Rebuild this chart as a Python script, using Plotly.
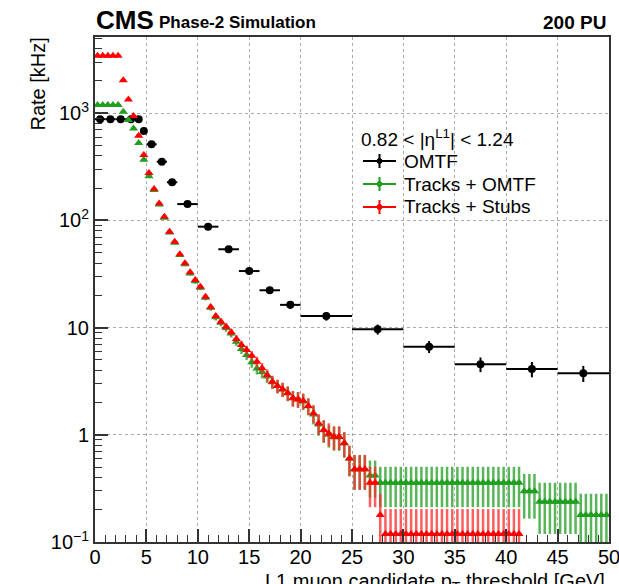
import plotly.graph_objects as go

# ---------------- data ----------------
# OMTF: variable-width threshold bins
omtf_edges = [0, 1, 2, 3, 4, 4.5, 5, 6, 7, 8, 10, 12, 14, 16, 18, 20, 25, 30, 35, 40, 45, 50]
omtf_rate = [880, 880, 880, 880, 880, 682, 513, 353, 227, 142, 87.4, 53.8, 33.7, 22.3,
             16.3, 12.8, 9.64, 6.64, 4.55, 4.11, 3.75]
omtf_err = [9.8, 9.8, 9.8, 9.8, 9.8, 8.7, 7.5, 6.2, 5.0, 4.0, 3.1, 2.4, 1.9, 1.57,
            1.34, 1.19, 1.03, 0.85, 0.71, 0.67, 0.64]

# Track-based: 0.5 GeV threshold bins from 0 to 50 GeV
thr_edges = [i * 0.5 for i in range(101)]

tkomtf_rate = [
    1193, 1193, 1193, 1193, 1193, 1030, 865, 720, 527, 368,
    258, 192, 141, 106, 77, 62, 47.5, 39, 32, 27,
    23.5, 19, 15.3, 12.5, 11.1, 9.9, 8.8, 7.4, 6.3, 5.55,
    4.75, 4.15, 3.85, 3.5, 3.1, 2.85, 2.65, 2.45, 2.2, 2.15,
    2.05, 1.85, 1.55, 1.25, 1.1, 1.0, 0.95, 0.95, 0.83, 0.60,
    0.477, 0.477, 0.477, 0.417, 0.417, 0.357, 0.357, 0.357, 0.357, 0.357,
    0.357, 0.357, 0.357, 0.357, 0.357, 0.357, 0.357, 0.357, 0.357, 0.357,
    0.357, 0.357, 0.357, 0.357, 0.357, 0.357, 0.357, 0.357, 0.357, 0.357,
    0.357, 0.357, 0.357, 0.298, 0.298, 0.298, 0.238, 0.238, 0.238, 0.238,
    0.238, 0.238, 0.238, 0.238, 0.179, 0.179, 0.179, 0.179, 0.179, 0.179,
]
tkomtf_err = [
    8.4, 8.4, 8.4, 8.4, 8.4, 7.8, 7.2, 6.6, 5.6, 4.7,
    3.9, 3.4, 2.9, 2.5, 2.1, 1.9, 1.7, 1.52, 1.38, 1.27,
    1.18, 1.06, 0.95, 0.86, 0.81, 0.77, 0.72, 0.66, 0.61, 0.58,
    0.53, 0.50, 0.48, 0.46, 0.43, 0.41, 0.40, 0.38, 0.36, 0.36,
    0.35, 0.33, 0.30, 0.27, 0.26, 0.24, 0.24, 0.24, 0.22, 0.19,
    0.17, 0.17, 0.17, 0.158, 0.158, 0.146, 0.146, 0.146, 0.146, 0.146,
    0.146, 0.146, 0.146, 0.146, 0.146, 0.146, 0.146, 0.146, 0.146, 0.146,
    0.146, 0.146, 0.146, 0.146, 0.146, 0.146, 0.146, 0.146, 0.146, 0.146,
    0.146, 0.146, 0.146, 0.133, 0.133, 0.133, 0.119, 0.119, 0.119, 0.119,
    0.119, 0.119, 0.119, 0.119, 0.103, 0.103, 0.103, 0.103, 0.103, 0.103,
]

tkstub_rate = [
    3438, 3438, 3438, 3438, 3438, 2030, 1340, 942, 617, 407,
    277, 196, 144, 108, 78.5, 63.3, 48.3, 39.8, 32.8, 27.8,
    24.1, 19.4, 15.6, 12.8, 11.35, 10.2, 9.04, 7.83, 6.89, 6.18,
    5.47, 4.81, 4.17, 3.61, 3.13, 2.85, 2.66, 2.44, 2.19, 2.14,
    2.08, 1.86, 1.59, 1.28, 1.11, 1.03, 0.96, 0.96, 0.84, 0.60,
    0.477, 0.477, 0.477, 0.357, 0.357, 0.179, 0.119, 0.119, 0.119, 0.119,
    0.119, 0.119, 0.119, 0.119, 0.119, 0.119, 0.119, 0.119, 0.119, 0.119,
    0.119, 0.119, 0.119, 0.119, 0.119, 0.119, 0.119, 0.119, 0.119, 0.119,
    0.119, 0.119, 0.119, None, None, None, None, None, None, None,
    None, None, None, None, None, None, None, None, None, None,
]
tkstub_err = [
    14.3, 14.3, 14.3, 14.3, 14.3, 11.0, 8.9, 7.5, 6.1, 4.9,
    4.1, 3.4, 2.9, 2.5, 2.2, 1.9, 1.7, 1.54, 1.40, 1.29,
    1.20, 1.08, 0.96, 0.87, 0.82, 0.78, 0.73, 0.68, 0.64, 0.61,
    0.57, 0.54, 0.50, 0.46, 0.43, 0.41, 0.40, 0.38, 0.36, 0.36,
    0.35, 0.33, 0.31, 0.28, 0.26, 0.25, 0.24, 0.24, 0.22, 0.19,
    0.17, 0.17, 0.17, 0.146, 0.146, 0.103, 0.084, 0.084, 0.084, 0.084,
    0.084, 0.084, 0.084, 0.084, 0.084, 0.084, 0.084, 0.084, 0.084, 0.084,
    0.084, 0.084, 0.084, 0.084, 0.084, 0.084, 0.084, 0.084, 0.084, 0.084,
    0.084, 0.084, 0.084, 0, 0, 0, 0, 0, 0, 0,
    0, 0, 0, 0, 0, 0, 0, 0, 0, 0,
]

ytick_vals = [0.1, 1, 10, 100, 1000]
ytick_text = ["10<sup>\u22121</sup>", "1", "10", "10<sup>2</sup>", "10<sup>3</sup>"]
xtick_vals = [0, 5, 10, 15, 20, 25, 30, 35, 40, 45, 50]

# ---------------- figure ----------------
W, H = 619, 584
L, R, T, B = 95, 10, 37, 42
PW, PH = W - L - R, H - T - B
FONT = "Liberation Sans, Arial, Helvetica, sans-serif"

BLACK = "#000000"
GREEN = "#1f9e1f"
RED = "#ff0000"


def centers(edges):
    return [(a + b) / 2 for a, b in zip(edges[:-1], edges[1:])]


def halfw(edges):
    return [(b - a) / 2 for a, b in zip(edges[:-1], edges[1:])]


fig = go.Figure()

fig.add_trace(go.Scatter(
    x=centers(omtf_edges), y=omtf_rate, mode="markers", name="OMTF",
    marker=dict(symbol="circle", size=8, color=BLACK),
    error_x=dict(type="data", array=halfw(omtf_edges), color=BLACK, thickness=2, width=0),
    error_y=dict(type="data", array=omtf_err, color=BLACK, thickness=2, width=0),
    showlegend=False,
))

fig.add_trace(go.Scatter(
    x=centers(thr_edges), y=tkomtf_rate, mode="markers", name="Tracks + OMTF",
    marker=dict(symbol="triangle-up", size=8, color=GREEN),
    error_x=dict(type="data", array=halfw(thr_edges), color=GREEN, thickness=2, width=0),
    error_y=dict(type="data", array=tkomtf_err, color="rgba(31,158,31,0.75)", thickness=2.5, width=0),
    showlegend=False,
))

fig.add_trace(go.Scatter(
    x=centers(thr_edges), y=tkstub_rate, mode="markers", name="Tracks + Stubs",
    marker=dict(symbol="triangle-up", size=8, color=RED),
    error_x=dict(type="data", array=halfw(thr_edges), color=RED, thickness=2, width=0),
    error_y=dict(type="data", array=tkstub_err, color="rgba(255,40,40,0.75)", thickness=2.5, width=0),
    showlegend=False,
))


def px(xp):
    return (xp - L) / PW


def py(yp):
    return (H - B - yp) / PH


annotations = []
shapes = []

# header texts
annotations.append(dict(text="<b>CMS</b>", x=px(94), y=py(20.5), xref="paper", yref="paper",
                        xanchor="left", yanchor="middle", showarrow=False,
                        font=dict(family=FONT, size=26, color="black")))
annotations.append(dict(text="<b>Phase-2 Simulation</b>", x=px(157), y=py(23), xref="paper", yref="paper",
                        xanchor="left", yanchor="middle", showarrow=False,
                        font=dict(family=FONT, size=17, color="black")))
annotations.append(dict(text="<b>200 PU</b>", x=px(608), y=py(23), xref="paper", yref="paper",
                        xanchor="right", yanchor="middle", showarrow=False,
                        font=dict(family=FONT, size=19, color="black")))

# axis titles
annotations.append(dict(text="Rate [kHz]", x=px(37), y=py(36), xref="paper", yref="paper",
                        xanchor="center", yanchor="top", textangle=-90, showarrow=False,
                        font=dict(family=FONT, size=20, color="black")))
annotations.append(dict(text="L1 muon candidate p<sub>T</sub> threshold [GeV]", x=px(607), y=py(568),
                        xref="paper", yref="paper", xanchor="right", yanchor="top", showarrow=False,
                        font=dict(family=FONT, size=20, color="black")))

# legend
annotations.append(dict(text="0.82 < |\u03b7<sup>L1</sup>| < 1.24", x=px(359), y=py(138),
                        xref="paper", yref="paper", xanchor="left", yanchor="middle", showarrow=False,
                        font=dict(family=FONT, size=19, color="black")))
leg = [("OMTF", BLACK, 161), ("Tracks + OMTF", GREEN, 184), ("Tracks + Stubs", RED, 207)]
for label, col, yrow in leg:
    annotations.append(dict(text=label, x=px(402), y=py(yrow), xref="paper", yref="paper",
                            xanchor="left", yanchor="middle", showarrow=False,
                            font=dict(family=FONT, size=19, color="black")))
    shapes.append(dict(type="line", xref="paper", yref="paper", x0=px(363), x1=px(396),
                       y0=py(yrow), y1=py(yrow), line=dict(color=col, width=2)))
    shapes.append(dict(type="line", xref="paper", yref="paper", x0=px(379.5), x1=px(379.5),
                       y0=py(yrow - 7), y1=py(yrow + 7), line=dict(color=col, width=2)))
    shapes.append(dict(type="circle", xref="paper", yref="paper", x0=px(377), x1=px(382),
                       y0=py(yrow + 2.5), y1=py(yrow - 2.5), fillcolor=col, line=dict(color=col, width=1)))

fig.update_layout(
    width=W, height=H,
    margin=dict(l=L, r=R, t=T, b=B, autoexpand=False),
    paper_bgcolor="white", plot_bgcolor="white",
    showlegend=False,
    font=dict(family=FONT, size=20, color="black"),
    annotations=annotations,
    shapes=shapes,
)

fig.update_xaxes(
    range=[0, 50], tickvals=xtick_vals, automargin=False,
    ticklabeloverflow="allow", ticklabelstandoff=-4,
    ticks="inside", ticklen=13, tickwidth=1.5, tickcolor="#333",
    showline=True, linecolor="#333", linewidth=2, mirror=True,
    showgrid=True, gridcolor="#aaaaaa", gridwidth=1, griddash="dot",
    zeroline=False,
    tickfont=dict(family=FONT, size=20, color="black"),
    minor=dict(dtick=1, ticks="inside", ticklen=7, tickwidth=1.2, tickcolor="#333", showgrid=False),
)

fig.update_yaxes(
    type="log", range=[-1, 3.711], automargin=False,
    ticklabeloverflow="allow",
    tickvals=ytick_vals, ticktext=ytick_text,
    ticks="inside", ticklen=13, tickwidth=1.5, tickcolor="#333",
    showline=True, linecolor="#333", linewidth=2, mirror=True,
    showgrid=True, gridcolor="#aaaaaa", gridwidth=1, griddash="dot",
    zeroline=False,
    tickfont=dict(family=FONT, size=20, color="black"),
    minor=dict(dtick="D1", ticks="inside", ticklen=7, tickwidth=1.2, tickcolor="#333", showgrid=False),
)

fig.write_html("out.html")
